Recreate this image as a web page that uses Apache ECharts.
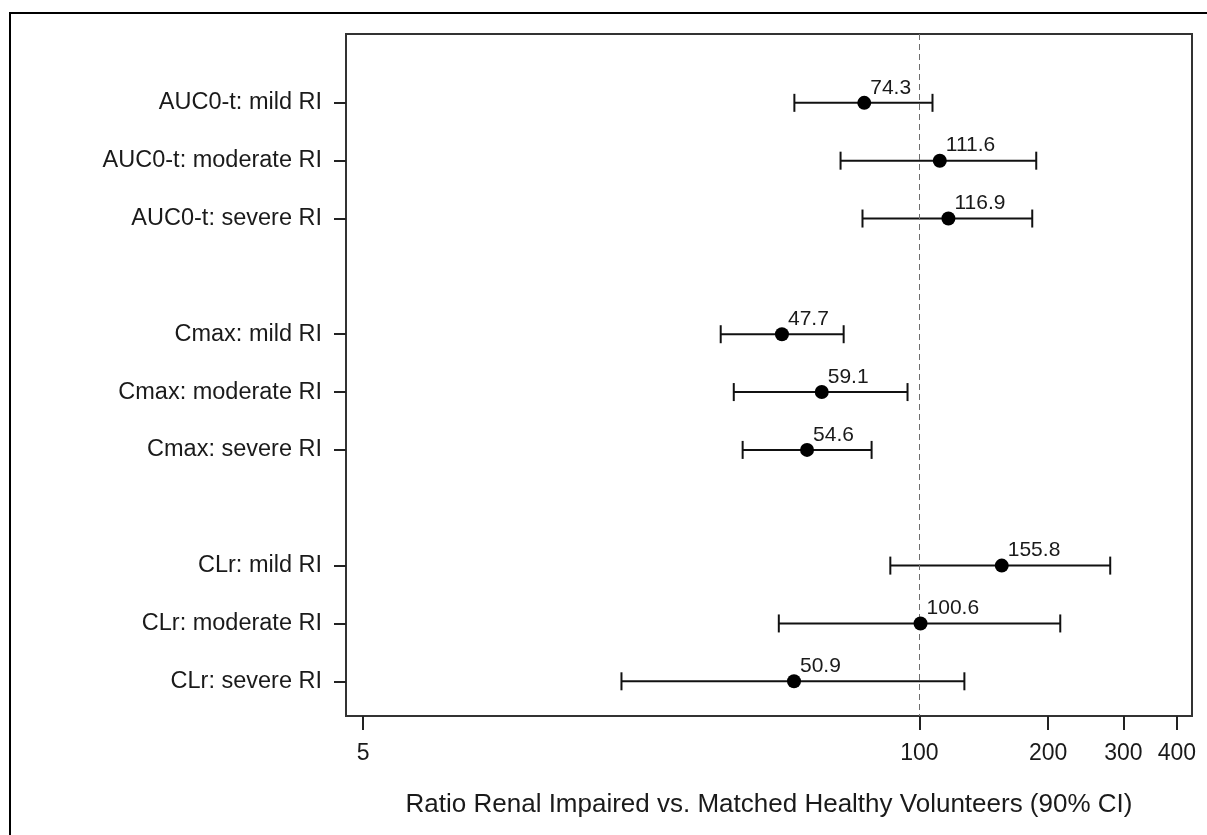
<!DOCTYPE html>
<html>
<head>
<meta charset="utf-8">
<script src="https://cdn.jsdelivr.net/npm/echarts@6/dist/echarts.min.js"></script>
<style>
html,body{margin:0;padding:0;background:#fff;}
#chart{width:1207px;height:835px;}
</style>
</head>
<body>
<div id="chart"></div>
<script>
// ---- data ----
const rowLabels = ['AUC0-t: mild RI','AUC0-t: moderate RI','AUC0-t: severe RI','',
  'Cmax: mild RI','Cmax: moderate RI','Cmax: severe RI','',
  'CLr: mild RI','CLr: moderate RI','CLr: severe RI'];
const rowPos   = [1, 2, 3, 5, 6, 7, 9, 10, 11];
const estimates = [74.3, 111.6, 116.9, 47.7, 59.1, 54.6, 155.8, 100.6, 50.9];
const lowerCI   = [51.0, 65.4, 73.6, 34.3, 36.8, 38.6, 85.5, 46.9, 20.1];
const upperCI   = [107.3, 187.6, 183.6, 66.5, 93.8, 77.3, 279.4, 213.5, 127.4];
const xTicks    = [5, 100, 200, 300, 400];
const refValue  = 100;
const xTitle    = 'Ratio Renal Impaired vs. Matched Healthy Volunteers (90% CI)';

const FONT = '"Liberation Sans", Arial, sans-serif';
const TXT = '#1a1a1a';

const chart = echarts.init(document.getElementById('chart'), null, {renderer: 'canvas'});

const ciData = rowPos.map((r, i) => [lowerCI[i], upperCI[i], r]);
const ptData = rowPos.map((r, i) => [estimates[i], r]);

const option = {
  animation: false,
  backgroundColor: '#fff',
  graphic: [{
    type: 'rect', shape: {x: 10, y: 13, width: 1210, height: 840},
    style: {fill: 'none', stroke: '#000', lineWidth: 2}, silent: true, z: 100
  }],
  grid: {
    left: 346, top: 34, right: 15, bottom: 119,
    show: true, borderColor: '#333', borderWidth: 2, backgroundColor: 'transparent'
  },
  xAxis: {
    type: 'log', logBase: 10, min: 4.56, max: 434,
    name: xTitle, nameLocation: 'middle', nameGap: 76,
    nameTextStyle: {fontFamily: FONT, fontSize: 26, color: TXT},
    axisLine: {show: false, onZero: false},
    axisTick: {show: true, length: 14, customValues: xTicks, lineStyle: {color: '#222', width: 2}},
    axisLabel: {customValues: xTicks, margin: 26, fontFamily: FONT, fontSize: 23, color: TXT,
      formatter: v => String(Math.round(v))},
    splitLine: {show: false},
    minorTick: {show: false}
  },
  yAxis: {
    type: 'value', inverse: true, min: -0.19, max: 11.6,
    axisLine: {show: false, onZero: false},
    axisTick: {show: true, length: 12, customValues: rowPos, lineStyle: {color: '#222', width: 2}},
    axisLabel: {customValues: rowPos, margin: 24, fontFamily: FONT, fontSize: 23.5, color: TXT,
      formatter: v => rowLabels[Math.round(v) - 1] || ''},
    splitLine: {show: false}
  },
  series: [
    {
      type: 'custom',
      data: ciData,
      z: 3,
      renderItem: function (params, api) {
        const lo = api.coord([api.value(0), api.value(2)]);
        const hi = api.coord([api.value(1), api.value(2)]);
        const cap = 9;
        const st = {stroke: '#111', lineWidth: 2, fill: 'none'};
        return {
          type: 'group',
          children: [
            {type: 'line', shape: {x1: lo[0], y1: lo[1], x2: hi[0], y2: hi[1]}, style: st},
            {type: 'line', shape: {x1: lo[0], y1: lo[1] - cap, x2: lo[0], y2: lo[1] + cap}, style: st},
            {type: 'line', shape: {x1: hi[0], y1: hi[1] - cap, x2: hi[0], y2: hi[1] + cap}, style: st}
          ]
        };
      }
    },
    {
      type: 'scatter',
      data: ptData,
      symbol: 'circle',
      symbolSize: 14,
      z: 5,
      itemStyle: {color: '#000', opacity: 1},
      label: {
        show: true, position: 'right', distance: 0, offset: [-1, -15],
        fontFamily: FONT, fontSize: 21, color: TXT, textBorderWidth: 0, opacity: 1,
        formatter: p => p.value[0].toFixed(1)
      },
      markLine: {
        silent: true, symbol: 'none', animation: false,
        label: {show: false},
        lineStyle: {color: '#6e6e6e', type: [6, 4], width: 1},
        data: [{xAxis: refValue}]
      }
    }
  ]
};
chart.setOption(option);
</script>
</body>
</html>
